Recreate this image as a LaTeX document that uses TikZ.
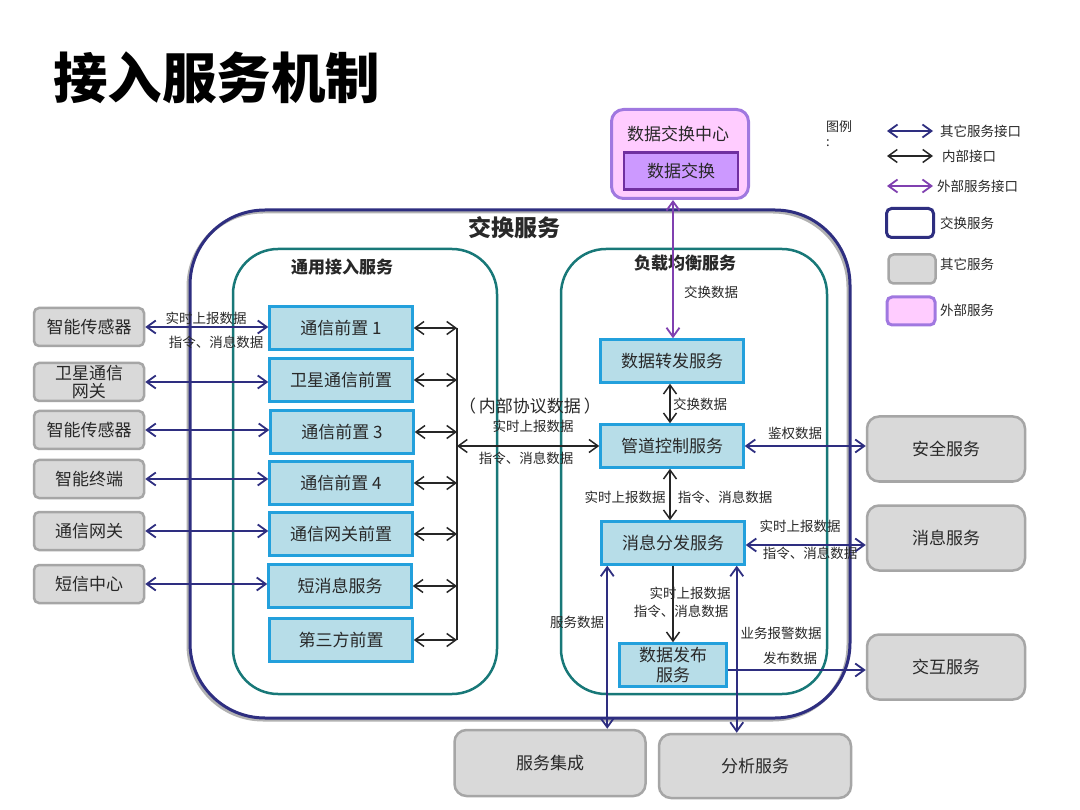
\documentclass[tikz,border=0pt]{standalone}
\usepackage{fontspec}
\setmainfont{Noto Sans CJK SC}
\usetikzlibrary{arrows.meta,calc}
\definecolor{navy}{RGB}{46,46,128}
\definecolor{tealc}{RGB}{24,120,120}
\definecolor{bluebd}{RGB}{35,160,220}
\definecolor{bluefill}{RGB}{183,221,232}
\definecolor{grayfill}{RGB}{217,217,217}
\definecolor{grayline}{RGB}{166,166,166}
\definecolor{pinkfill}{RGB}{255,204,255}
\definecolor{pinkline}{RGB}{160,120,224}
\definecolor{lavfill}{RGB}{204,153,255}
\definecolor{lavline}{RGB}{112,48,160}
\definecolor{purp}{RGB}{128,64,176}
\definecolor{txt}{RGB}{40,40,40}
\definecolor{blk}{RGB}{38,38,38}
\tikzset{
  >={Straight Barb[length=9pt,width=13pt]},
  fbig/.style={font=\fontsize{17}{18}\selectfont},
  fsmall/.style={font=\fontsize{13.5}{16}\selectfont, text=txt, inner sep=0pt},
  gbox/.style={draw=grayline, fill=grayfill, line width=2.5pt, rounded corners=5pt,
    minimum width=110pt, minimum height=38pt, fbig, text=txt, align=center, inner sep=1pt},
  gbig/.style={draw=grayline, fill=grayfill, line width=2.5pt, rounded corners=12pt,
    minimum width=158pt, minimum height=65pt, fbig, text=txt, align=center},
  bbox/.style={draw=bluebd, fill=bluefill, line width=2.5pt,
    minimum width=143pt, minimum height=43pt, fbig, text=txt, align=center, inner sep=1pt},
  navyarr/.style={<->, draw=navy, line width=1.8pt},
  navyone/.style={->, draw=navy, line width=1.8pt},
  blkarr/.style={<->, draw=blk, line width=1.5pt},
  blkone/.style={->, draw=blk, line width=1.5pt},
  purparr/.style={<->, draw=purp, line width=1.8pt},
  zone/.style={draw=tealc, line width=2.5pt, rounded corners=45pt},
}
\begin{document}
\begin{tikzpicture}[x=1pt,y=-1pt]
\useasboundingbox (0,0) rectangle (1080,810);
\fill[white] (0,0) rectangle (1080,810);

% title
\node[anchor=west, font=\fontsize{54.5}{60}\selectfont\bfseries, text=black, inner sep=0pt] (title) at (53,78) {接入服务机制};

% outer exchange service
\draw[gray!60, line width=3pt, rounded corners=75pt] (188,212) rectangle (848,720);
\draw[navy, line width=3pt, rounded corners=75pt] (190,210) rectangle (850,718);
\node[font=\fontsize{23}{26}\selectfont\bfseries, text=txt] (exT) at (514,228) {交换服务};

% zones
\draw[zone] (233,249) rectangle (497,694);
\draw[zone] (561,249) rectangle (827,694);
\node[font=\fontsize{17}{20}\selectfont\bfseries, text=txt] (zaT) at (342,267) {通用接入服务};
\node[font=\fontsize{17}{20}\selectfont\bfseries, text=txt] (zbT) at (685,263) {负载均衡服务};

% external data exchange center
\node[draw=pinkline, fill=pinkfill, line width=3pt, rounded corners=12pt,
  minimum width=137pt, minimum height=89pt] (dxc) at (680,154) {};
\node[fbig, text=txt] (dxcT) at (678,134) {数据交换中心};
\node[draw=lavline, fill=lavfill, line width=2.5pt, minimum width=114pt, minimum height=37pt,
  fbig, text=txt] (dx) at (681,171) {数据交换};

% left gray boxes
\node[gbox] (s1) at (89,327) {智能传感器};
\node[gbox, font=\fontsize{17}{18}\selectfont] (s2) at (89,382) {卫星通信\\网关};
\node[gbox] (s3) at (89,430) {智能传感器};
\node[gbox] (s4) at (89,479) {智能终端};
\node[gbox] (s5) at (89,531) {通信网关};
\node[gbox] (s6) at (89,584) {短信中心};

% front-end boxes
\node[bbox] (f1) at (341,328) {通信前置 1};
\node[bbox] (f2) at (341,380) {卫星通信前置};
\node[bbox] (f3) at (342,432) {通信前置 3};
\node[bbox] (f4) at (341,483) {通信前置 4};
\node[bbox] (f5) at (341,534) {通信网关前置};
\node[bbox] (f6) at (340,586) {短消息服务};
\node[bbox] (f7) at (341,640) {第三方前置};

% left arrows
\foreach \s/\f in {s1/f1,s2/f2,s3/f3,s4/f4,s5/f5,s6/f6}{
  \draw[navyarr] (\s.east) -- (\s.east -| \f.west);
}
\node[fsmall] (l1a) at (206,318) {实时上报数据};
\node[fsmall] (l1b) at (216,342) {指令、消息数据};

% bus
\coordinate (bus) at (457,0);
\draw[blk, line width=1.5pt] (bus |- f1.east) -- (bus |- f7.east);
\foreach \f in {f1,f2,f3,f4,f5,f6,f7}{
  \draw[blkarr] (\f.east) -- (\f.east -| bus);
}

% right service boxes
\node[bbox] (fwd) at (672,361) {数据转发服务};
\node[bbox] (pipe) at (672,446) {管道控制服务};
\node[bbox] (msg) at (673,543) {消息分发服务};
\node[bbox, minimum width=107pt, minimum height=43pt, font=\fontsize{17}{20}\selectfont] (pub) at (673,665) {数据发布\\服务};

% middle arrow
\draw[blkarr] (bus |- pipe.west) -- (pipe.west);
\node[font=\fontsize{17}{18}\selectfont, text=txt, inner sep=0pt] (lp) at (530,406) {（\,内部协议数据\,）};
\node[fsmall] (lp1) at (533,426) {实时上报数据};
\node[fsmall] (lp2) at (526,458) {指令、消息数据};

% purple arrow
\draw[purparr] ([xshift=1pt]fwd.north) -- ([xshift=1pt]fwd.north |- dxc.south);
\node[fsmall] (lx) at (711,292) {交换数据};

% internal vertical arrows
\draw[blkarr] ([xshift=-2pt]fwd.south) -- ([xshift=-2pt]fwd.south |- pipe.north);
\node[fsmall] (lx2) at (700,404) {交换数据};
\draw[blkarr] ([xshift=-2pt]pipe.south) -- ([xshift=-2pt]pipe.south |- msg.north);
\node[fsmall] (lm1) at (625,497) {实时上报数据};
\node[fsmall] (lm2) at (725,497) {指令、消息数据};
\draw[blkone] (msg.south) -- (pub.north);
\node[fsmall] (lq1) at (690,593) {实时上报数据};
\node[fsmall] (lq2) at (681,611) {指令、消息数据};

% right gray services
\node[gbig] (sec) at (946,449) {安全服务};
\node[gbig] (msv) at (946,538) {消息服务};
\node[gbig] (itr) at (946,667) {交互服务};
\draw[navyarr] (pipe.east) -- (pipe.east -| sec.west);
\node[fsmall] (la) at (795,433) {鉴权数据};
\draw[navyarr] ([yshift=-2pt]msg.east) -- ([yshift=-2pt]msg.east -| msv.west);
\node[fsmall] (lr1) at (800,526) {实时上报数据};
\node[fsmall] (lr2) at (810,553) {指令、消息数据};
\draw[navyone] ([yshift=-5pt]pub.east) -- ([yshift=-5pt]pub.east -| itr.west);
\node[fsmall] (lw1) at (781,633) {业务报警数据};
\node[fsmall] (lw2) at (790,658) {发布数据};

% bottom services
\node[gbig, minimum width=191pt, minimum height=66pt] (ji) at (550,763) {服务集成};
\node[gbig, minimum width=192pt, minimum height=64pt] (fx) at (755,766) {分析服务};
\draw[navyarr] ([xshift=7pt]msg.south west) -- ([xshift=7pt]msg.south west |- ji.north);
\draw[navyarr] ([xshift=-9pt]msg.south east) -- ([xshift=-9pt]msg.south east |- fx.north);
\node[fsmall] (ls) at (577,622) {服务数据};

% legend
\node[font=\fontsize{13}{15}\selectfont, text=txt, align=left, anchor=north west, inner sep=0pt] (lgT) at (826,120) {图例\\:};
\coordinate (lga) at (887,131);
\coordinate (lgb) at (887,156);
\coordinate (lgc) at (887,186);
\draw[navyarr] (lga) -- ++(46,0) coordinate (lga2);
\draw[blkarr] (lgb) -- ++(46,0) coordinate (lgb2);
\draw[purparr] (lgc) -- ++(46,0) coordinate (lgc2);
\node[fsmall, anchor=west] (lgat) at (940,131) {其它服务接口};
\node[fsmall, anchor=west] (lgbt) at (942,156) {内部接口};
\node[fsmall, anchor=west] (lgct) at (937,186) {外部服务接口};
\node[draw=navy, fill=white, line width=3pt, rounded corners=5pt, minimum width=47pt, minimum height=29pt] (lgd) at (910,223) {};
\node[draw=grayline, fill=grayfill, line width=2.5pt, rounded corners=5pt, minimum width=47pt, minimum height=29pt] (lge) at (912,269) {};
\node[draw=pinkline, fill=pinkfill, line width=3pt, rounded corners=5pt, minimum width=48pt, minimum height=28pt] (lgf) at (911,311) {};
\node[fsmall, anchor=west] (lgdt) at (940,223) {交换服务};
\node[fsmall, anchor=west] (lget) at (940,264) {其它服务};
\node[fsmall, anchor=west] (lgft) at (940,310) {外部服务};
\end{tikzpicture}
\end{document}
